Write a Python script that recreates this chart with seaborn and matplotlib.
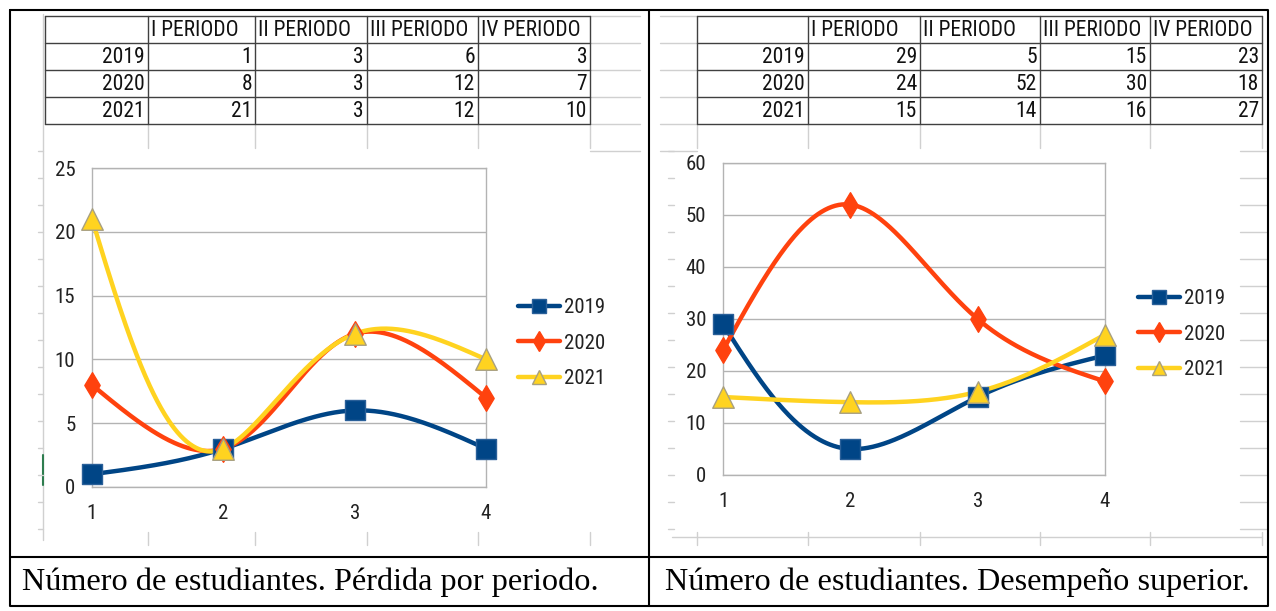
import numpy as np
import pandas as pd
import matplotlib
matplotlib.use("Agg")
import matplotlib.pyplot as plt
import seaborn as sns
from matplotlib.lines import Line2D
from matplotlib import font_manager

# Datos de las tablas
periodos = [1, 2, 3, 4]
nombres_periodo = ["I PERIODO", "II PERIODO", "III PERIODO", "IV PERIODO"]
anios = ["2019", "2020", "2021"]

perdida_2019 = [1, 3, 6, 3]
perdida_2020 = [8, 3, 12, 7]
perdida_2021 = [21, 3, 12, 10]

superior_2019 = [29, 5, 15, 23]
superior_2020 = [24, 52, 30, 18]
superior_2021 = [15, 14, 16, 27]

titulo_izq = "Número de estudiantes. Pérdida por periodo."
titulo_der = "Número de estudiantes. Desempeño superior."

colores = {"2019": "#004586", "2020": "#ff420e", "2021": "#ffd320"}
marcadores = {"2019": "s", "2020": "d", "2021": "^"}
bordes = {"2019": "#2a6099", "2020": "#ff420e", "2021": "#a8a080"}

sns.set_style("white")

# fuente estrecha si existe, si no Liberation Sans mas pequena
nombres = {f.name for f in font_manager.fontManager.ttflist}
estrecha = None
for cand in ["Liberation Sans Narrow", "Arial Narrow", "DejaVu Sans Condensed",
             "Roboto Condensed", "Open Sans Condensed", "Noto Sans Condensed"]:
    if cand in nombres:
        estrecha = cand
        break
if estrecha:
    plt.rcParams["font.family"] = [estrecha, "DejaVu Sans"]
    t_tabla, t_ejes, t_ley = 15.5, 15, 15
else:
    plt.rcParams["font.family"] = ["Liberation Sans", "DejaVu Sans"]
    t_tabla, t_ejes, t_ley = 12.5, 14, 13

W, H = 1276, 611
fig = plt.figure(figsize=(W / 100, H / 100), dpi=100)

bg = fig.add_axes([0, 0, 1, 1])
bg.set_xlim(0, W)
bg.set_ylim(H, 0)
bg.axis("off")


def spline_nat(ts, vs, tt):
    ts = np.asarray(ts, float)
    vs = np.asarray(vs, float)
    k = len(ts)
    h = np.diff(ts)
    A = np.zeros((k, k))
    b = np.zeros(k)
    A[0, 0] = A[-1, -1] = 1
    for i in range(1, k - 1):
        A[i, i - 1] = h[i - 1]
        A[i, i] = 2 * (h[i - 1] + h[i])
        A[i, i + 1] = h[i]
        b[i] = 6 * ((vs[i + 1] - vs[i]) / h[i] - (vs[i] - vs[i - 1]) / h[i - 1])
    M = np.linalg.solve(A, b)
    idx = np.clip(np.searchsorted(ts, tt) - 1, 0, k - 2)
    t0, t1 = ts[idx], ts[idx + 1]
    hh = t1 - t0
    a, c = t1 - tt, tt - t0
    return (M[idx] * a ** 3 / (6 * hh) + M[idx + 1] * c ** 3 / (6 * hh)
            + (vs[idx] / hh - M[idx] * hh / 6) * a
            + (vs[idx + 1] / hh - M[idx + 1] * hh / 6) * c)


def suave(xs, ys, sx, sy, n=300):
    # spline parametrico por longitud de cuerda (como la hoja de calculo)
    xs = np.asarray(xs, float)
    ys = np.asarray(ys, float)
    d = np.hypot(np.diff(xs) * sx, np.diff(ys) * sy)
    t = np.concatenate([[0], np.cumsum(d)])
    tt = np.linspace(0, t[-1], n)
    return spline_nat(t, xs, tt), spline_nat(t, ys, tt)


def tabla(xe, ye, filas):
    gris = "#404040"
    for x in xe:
        bg.plot([x, x], [ye[0], ye[-1]], color=gris, lw=1)
    for y in ye:
        bg.plot([xe[0], xe[-1]], [y, y], color=gris, lw=1)
    for j, nom in enumerate(nombres_periodo):
        bg.text(xe[j + 1] + 3, (ye[0] + ye[1]) / 2 + 1, nom, fontsize=t_tabla,
                ha="left", va="center", color="#111111")
    for i, (anio, vals) in enumerate(filas):
        yc = (ye[i + 1] + ye[i + 2]) / 2 + 1
        bg.text(xe[1] - 3, yc, anio, fontsize=t_tabla, ha="right", va="center",
                color="#111111")
        for j, v in enumerate(vals):
            bg.text(xe[j + 2] - 3, yc, str(v), fontsize=t_tabla, ha="right",
                    va="center", color="#111111")


def grafico(px, py, series, ymax, paso, pos_leyenda):
    rect = [px[0] / W, 1 - py[0] / H, (px[1] - px[0]) / W, (py[0] - py[1]) / H]
    ax = fig.add_axes(rect)
    ax.set_facecolor("none")
    sx = (px[1] - px[0]) / 3
    sy = (py[0] - py[1]) / ymax
    for anio, vals in series:
        xx, yy = suave(periodos, vals, sx, sy)
        df = pd.DataFrame({"x": xx, "y": yy})
        sns.lineplot(data=df, x="x", y="y", ax=ax, color=colores[anio], lw=3.2,
                     sort=False, estimator=None, zorder=3)
        pts = pd.DataFrame({"x": periodos, "y": vals})
        ms = {"s": 190, "d": 170, "^": 240}[marcadores[anio]]
        sns.scatterplot(data=pts, x="x", y="y", ax=ax, marker=marcadores[anio], s=ms,
                        color=colores[anio], edgecolor=bordes[anio], linewidth=1,
                        zorder=4, clip_on=False)
    ax.set_xlim(1, 4)
    ax.set_ylim(0, ymax)
    ax.set_xticks(periodos)
    ax.set_yticks(np.arange(0, ymax + 1, paso))
    ax.set_xlabel("")
    ax.set_ylabel("")
    ax.grid(axis="y", color="#b3b3b3", lw=1)
    ax.grid(axis="x", visible=False)
    for s in ax.spines.values():
        s.set_color("#b3b3b3")
        s.set_linewidth(1)
    ax.tick_params(axis="both", direction="out", length=6, width=1, color="#b3b3b3",
                   labelsize=t_ejes, labelcolor="#222222")
    ax.tick_params(axis="y", pad=6)
    ax.tick_params(axis="x", pad=6)
    manejadores = [Line2D([], [], color=colores[a], lw=3.2, marker=marcadores[a],
                          markersize=10, markerfacecolor=colores[a],
                          markeredgecolor=bordes[a]) for a in anios]
    fig.legend(manejadores, anios, loc="center left",
               bbox_to_anchor=(pos_leyenda[0] / W, 1 - pos_leyenda[1] / H),
               frameon=False, fontsize=t_ley, handlelength=2.0, handletextpad=0.2,
               labelspacing=0.8, borderpad=0, borderaxespad=0,
               labelcolor="#222222")
    return ax


# cuadricula tenue de la hoja de calculo
claro = "#d0d0d0"
bg.plot([43, 43], [14, 540], color=claro, lw=1)
bg.plot([43, 43], [455, 485], color="#2e7d4f", lw=1.5)
for y in np.arange(151, 540, 27):
    bg.plot([38, 43], [y, y], color=claro, lw=1)
for x in [148, 255, 367, 478, 590]:
    bg.plot([x, x], [124, 148], color=claro, lw=1)
    bg.plot([x, x], [532, 545], color=claro, lw=1)
for y in [16, 43, 70, 97, 124, 151]:
    bg.plot([590, 640], [y, y], color=claro, lw=1)
    bg.plot([660, 697], [y, y], color=claro, lw=1)
for x in [697, 808, 920, 1040, 1150, 1262]:
    bg.plot([x, x], [124, 148], color=claro, lw=1)
    bg.plot([x, x], [532, 545], color=claro, lw=1)
bg.plot([672, 1262], [537, 537], color=claro, lw=1)
for y in np.arange(151, 540, 27):
    bg.plot([668, 674], [y, y], color=claro, lw=1)
    bg.plot([1240, 1266], [y, y], color=claro, lw=1)

tabla([45, 148, 255, 367, 478, 590], [16, 43, 70, 97, 124],
      list(zip(anios, [perdida_2019, perdida_2020, perdida_2021])))
tabla([697, 808, 920, 1040, 1150, 1262], [16, 43, 70, 97, 124],
      list(zip(anios, [superior_2019, superior_2020, superior_2021])))

grafico((92, 486), (487, 168),
        list(zip(anios, [perdida_2019, perdida_2020, perdida_2021])), 25, 5, (518, 343))
grafico((723, 1105), (475, 163),
        list(zip(anios, [superior_2019, superior_2020, superior_2021])), 60, 10, (1138, 334))

# marco del documento
negro = "#000000"
bg.plot([10, 1268, 1268, 10, 10], [10, 10, 606, 606, 10], color=negro, lw=1.5)
bg.plot([649, 649], [10, 606], color=negro, lw=1.5)
bg.plot([10, 1268], [557, 557], color=negro, lw=1.5)

serif = ["Liberation Serif", "DejaVu Serif"]
bg.text(22, 582, titulo_izq, fontsize=23.2, family=serif, ha="left", va="center",
        color="black")
bg.text(665, 582, titulo_der, fontsize=23.2, family=serif, ha="left", va="center",
        color="black")

fig.savefig("out.png", dpi=100)
